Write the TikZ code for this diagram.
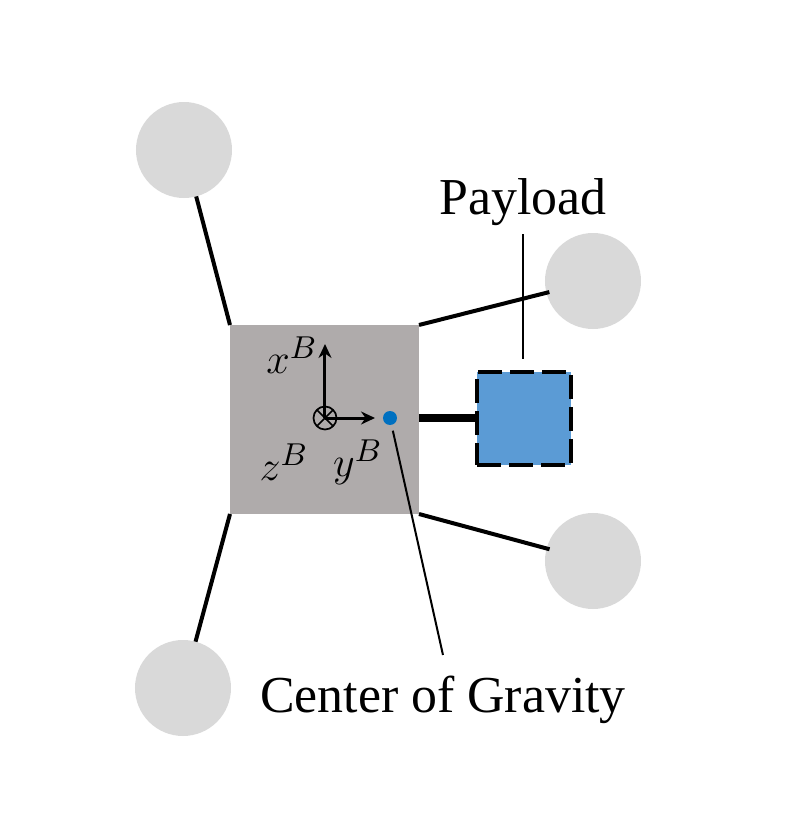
\documentclass[tikz,border=0pt]{standalone}
\usepackage{amsmath}
\usepackage{fontspec}
\setmainfont{Liberation Serif}
\usepackage{xcolor}
\usetikzlibrary{arrows.meta}
\definecolor{rotorgray}{HTML}{D9D9D9}
\definecolor{bodygray}{HTML}{AFABAB}
\definecolor{payloadblue}{HTML}{5B9BD5}
\definecolor{dotblue}{HTML}{0070C0}

\begin{document}
\begin{tikzpicture}[rotor/.style={circle,fill=rotorgray,minimum size=.96cm,inner sep=0pt,outer sep=0pt},
        lbl/.style={font=\fontsize{14.75}{16}\selectfont,inner sep=0pt},
        sym/.style={font=\fontsize{13}{15}\selectfont,inner sep=0pt}]
            \useasboundingbox (0,0) rectangle (8.11,8.13);

            \node[rotor] (r1) at (1.84,6.63) {};
            \node[rotor] (r2) at (5.93,5.32) {};
            \node[rotor] (r3) at (5.93,2.52) {};
            \node[rotor] (r4) at (1.83,1.25) {};

            \node[fill=bodygray,minimum size=1.89cm,inner sep=0pt,outer sep=0pt] (body) at (3.245,3.935) {};
            \node[draw=black,dash pattern=on .24cm off .08cm,line width=.04cm,fill=payloadblue,minimum size=.935cm,inner sep=0pt,outer sep=0pt] (load) at (5.24,3.945) {};

            \node[circle,draw=black,line width=.017cm,minimum size=.23cm,inner sep=0pt,outer sep=0pt] (zb) at (3.25,3.95) {};
            \node[circle,fill=dotblue,minimum size=.14cm,inner sep=0pt,outer sep=0pt] (cg) at (3.90,3.95) {};
            \coordinate (xtip) at (3.25,4.69);
            \coordinate (ytip) at (3.75,3.95);
            \coordinate (armstart) at (4.19,3.95);
            \coordinate (gravitytop) at (4.43,1.58);

            \node[lbl] (payload) at (5.23,6.11) {Payload};
            \node[lbl,anchor=north] (gravity) at (4.43,1.38) {Center of Gravity};

            \node[sym] (xlabel) at (2.92,4.58) {$x^B$};
            \node[sym] (zlabel) at (2.84,3.51) {$z^B$};
            \node[sym] (ylabel) at (3.58,3.51) {$y^B$};

            \begin{scope}[line width=.04cm]
                \draw (r1) -- (body.north west);
                \draw[shorten <=-.03cm] (r2) -- (body.north east);
                \draw[shorten <=-.03cm] (r3) -- (body.south east);
                \draw (r4) -- (body.south west);
            \end{scope}
            \draw[line width=.08cm] (armstart) -- (load.west |- armstart);

            \begin{scope}[line width=.03cm,-{Stealth[length=.14cm,width=.13cm]}]
                \draw (zb.center) -- (xtip);
                \draw (zb.center) -- (ytip);
            \end{scope}
            \draw[line width=.017cm] (zb.45) -- (zb.225);
            \draw[line width=.017cm] (zb.135) -- (zb.315);

            \draw[line width=.02cm,shorten <=.06cm] (cg) -- (gravitytop);
            \draw[line width=.02cm,shorten <=.08cm,shorten >=.13cm] (payload) -- (load.north -| payload);
        \end{tikzpicture}
\end{document}
